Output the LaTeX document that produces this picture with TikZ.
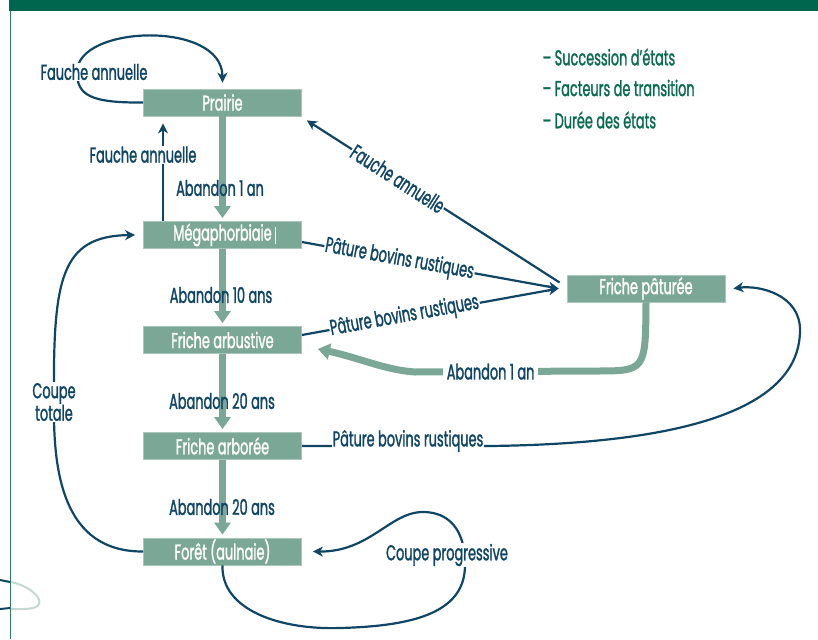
\documentclass[tikz,border=0pt]{standalone}
\usepackage{fontspec}
\setmainfont{Poppins}[FakeStretch=0.6,FakeBold=1.3]
\usepackage{xcolor}
\usepackage{tikz}
\usetikzlibrary{arrows.meta,positioning}

\definecolor{navy}{HTML}{0F4565}
\definecolor{sauge}{HTML}{7BA896}
\definecolor{saugebord}{HTML}{A9C8BB}
\definecolor{legende}{HTML}{0B6B50}
\definecolor{bandeau}{HTML}{00674F}
\definecolor{cadre}{HTML}{2A7F63}
\definecolor{boucle}{HTML}{C3D9CF}

\tikzset{
  etat/.style={fill=sauge, draw=saugebord, line width=0.8pt, minimum width=158pt,
    minimum height=27pt, inner sep=0pt, text=white},
  lbl/.style={text=navy, inner sep=1pt},
  lblw/.style={lbl, fill=white},
  bleu/.style={draw=navy, line width=2.2pt, -{Stealth[length=10pt,width=10pt,inset=3pt]}},
  vert/.style={draw=sauge, line width=7pt, -{Triangle[length=12pt,width=16pt]}},
}

\begin{document}
\begin{tikzpicture}[x=1pt,y=-1pt,font=\fontsize{21.5}{22}\selectfont]
  \useasboundingbox (0,0) rectangle (818,639);
  % frame
  \fill[bandeau] (9,0) rectangle (818,11);
  \draw[cadre, line width=1.6pt] (10.5,11) -- (10.5,639);
  \draw[navy, line width=2pt] (0,580) -- (10,582) (0,609) -- (10,608);
  \draw[boucle, line width=2pt] (11,582) .. controls (30,586) and (42,598) .. (39,604)
    .. controls (37,610) and (20,609) .. (11,609);

  % states
  \node[etat] (prairie) at (222.5,102.5) {Prairie};
  \node[etat] (mega) at (222.5,235) {Mégaphorbiaie};
  \draw[white, line width=0.6pt] (275,227) -- (275,244);
  \node[etat] (farbu) at (222.5,340) {Friche arbustive};
  \node[etat] (farbo) at (222.5,446) {Friche arborée};
  \node[etat] (foret) at (222.5,551.5) {Forêt (aulnaie)};
  \node[etat] (fpat) at (646,288.5) {Friche pâturée};

  % legend
  \node[anchor=west, text=legende] (leg1) at (539,57) {– Succession d’états};
  \node[anchor=west, text=legende] (leg2) at (539,88) {– Facteurs de transition};
  \node[anchor=west, text=legende] (leg3) at (539,120) {– Durée des états};

  % abandon (succession)
  \draw[vert] (prairie.south) -- ([yshift=3pt]mega.north);
  \draw[vert] (mega.south) -- ([yshift=3pt]farbu.north);
  \draw[vert] (farbu.south) -- ([yshift=3pt]farbo.north);
  \draw[vert] (farbo.south) -- ([yshift=3pt]foret.north);
  \node[lbl] (ab1) at (220,188) {Abandon 1 an};
  \node[lbl] (ab10) at (221,295) {Abandon 10 ans};
  \node[lbl] (ab20a) at (222,401) {Abandon 20 ans};
  \node[lbl] (ab20b) at (222,507) {Abandon 20 ans};
  \draw[vert] (fpat.south) .. controls (645.5,371) .. (595,371)
    -- node[lblw, pos=0.58, inner sep=4pt] (ab1b) {Abandon 1 an} (415,372)
    .. controls (385,370) and (360,358) .. ([xshift=16pt,yshift=-9pt]farbu.east);

  % fauche
  \draw[bleu] (prairie.west) .. controls (90,103) and (77,95) .. (77,72)
    node[lblw, xshift=17pt] (fa1) {Fauche annuelle}
    .. controls (77,25) and (222,20) .. ([yshift=6pt]prairie.north);
  \draw[bleu] ([xshift=-59.5pt]mega.north) -- node[lblw, pos=0.68, xshift=-20pt] (fa2) {Fauche annuelle}
    ([xshift=-59.5pt,yshift=-7pt]prairie.south);
  \draw[bleu] ([xshift=-7pt,yshift=6pt]fpat.west) -- node[lblw, pos=0.64, sloped] (fa3) {Fauche annuelle}
    ([xshift=5pt,yshift=-4pt]prairie.south east);

  % paturage
  \draw[bleu] ([yshift=-7pt]mega.east) -- node[lblw, pos=0.38, sloped] (pb1) {Pâture bovins rustiques}
    ([xshift=-8pt]fpat.west);
  \draw[bleu] ([yshift=5pt]farbu.east) -- node[lblw, pos=0.4, sloped] (pb2) {Pâture bovins rustiques}
    ([xshift=-8pt]fpat.west);
  \draw[bleu] (farbo.east) -- node[lblw, pos=0.564, yshift=5pt] (pb3) {Pâture bovins rustiques} (490,446)
    .. controls (650,444) and (800,420) .. (800,330)
    .. controls (800,295) and (760,285) .. ([xshift=8pt]fpat.east);

  % coupes
  \draw[bleu] (foret.west) .. controls (62,552) and (53,470) .. (54,402)
    node[lblw, align=center, font=\fontsize{21.5}{19}\selectfont] (ct) {Coupe\\totale}
    .. controls (53,280) and (60,236) .. ([xshift=-8pt]mega.west);
  \draw[bleu] (foret.south) .. controls (221,610) and (280,630) .. (340,628)
    .. controls (420,626) and (465,610) .. (465,565)
    node[lblw, xshift=-18pt, yshift=10pt] (cp) {Coupe progressive}
    .. controls (465,520) and (440,512) .. (423,512)
    .. controls (390,512) and (370,552) .. ([xshift=11pt]foret.east);
\end{tikzpicture}
\end{document}
